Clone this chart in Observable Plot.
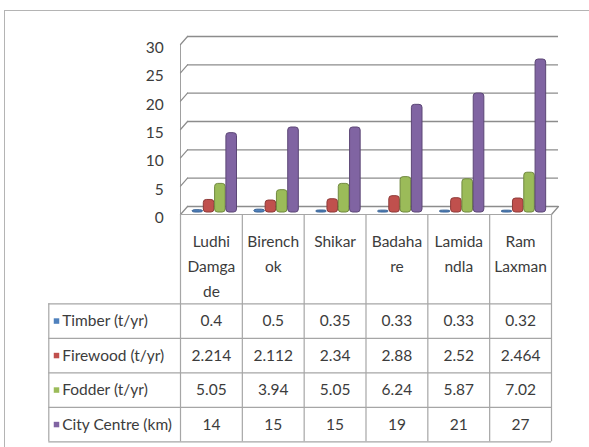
<!DOCTYPE html>
<html><head><meta charset="utf-8">
<script src="https://cdn.jsdelivr.net/npm/d3@7"></script>
<script src="https://cdn.jsdelivr.net/npm/@observablehq/plot@0.6"></script>
<style>
html,body{margin:0;padding:0;background:#fff;}
#wrap{position:relative;width:589px;height:447px;overflow:hidden;background:#fff;}
#frame{position:absolute;left:4px;top:10px;right:-4px;bottom:-4px;border-top:1.5px solid #b4b4b4;border-left:1.5px solid #b4b4b4;}
#chart{position:absolute;left:0;top:0;}
</style></head><body>
<div id="wrap"><div id="frame"></div><div id="chart"></div></div>
<script>
// ---- data ----
const categories = ["Ludhi Damgade", "Birenchok", "Shikar", "Badahare", "Lamidandla", "Ram Laxman"];
const categoryLabels = ["Ludhi\nDamga\nde", "Birench\nok", "Shikar", "Badaha\nre", "Lamida\nndla", "Ram\nLaxman"];
const seriesNames = ["Timber (t/yr)", "Firewood (t/yr)", "Fodder (t/yr)", "City Centre (km)"];
const timber = [0.4, 0.5, 0.35, 0.33, 0.33, 0.32];
const firewood = [2.214, 2.112, 2.34, 2.88, 2.52, 2.464];
const fodder = [5.05, 3.94, 5.05, 6.24, 5.87, 7.02];
const cityCentre = [14, 15, 15, 19, 21, 27];
const yTicks = [0, 5, 10, 15, 20, 25, 30];

// ---- style / layout ----
const seriesValues = [timber, firewood, fodder, cityCentre];
const fills = ["#4f81bd", "#c0504d", "#9bbb59", "#8064a2"];
const strokes = ["#365f91", "#8e3a38", "#71893f", "#5c4776"];
const W = 589, H = 447, L = 180, R = 551, TOP = 42, Y0 = 212;
const bw = (R - L) / categories.length;
const depthX = 7, depthY = -6;      // back wall offset
const frontDy = 2;                   // front edge offset
const rowTop = 303.3 - Y0, rowH = 34.5, tableLeft = 48.3;
const gridColor = "#8c8c8c", tableColor = "#a6a6a6", textColor = "#3c3c3c";
const fs = 15.5;
const seg = {draw(ctx, l) { ctx.moveTo(0, 0); ctx.lineTo(0, -l); }};
const diagLen = Math.hypot(depthX, depthY - frontDy);
const diagRot = Math.atan2(depthX, -(depthY - frontDy)) * 180 / Math.PI;

const marks = [];
// back wall gridlines (incl. floor back edge)
marks.push(Plot.ruleY(yTicks, {y: d => d, dx: depthX, dy: depthY, stroke: gridColor, strokeWidth: 1.3}));
// left wall front edge
marks.push(Plot.ruleX([categories[0]], {x: d => d, dx: -bw / 2, dy: frontDy, stroke: "#a0a0a0"}));
// left wall diagonals
marks.push(Plot.vector(yTicks, {x: () => categories[0], y: d => d, dx: -bw / 2, dy: frontDy, anchor: "start",
  length: diagLen, rotate: diagRot, shape: seg, stroke: gridColor, strokeWidth: 1.2}));
// floor right diagonal
marks.push(Plot.vector([0], {x: () => categories[categories.length - 1], y: d => d, dx: bw / 2, dy: frontDy, anchor: "start",
  length: diagLen, rotate: diagRot, shape: seg, stroke: gridColor, strokeWidth: 1.2}));
// bars
seriesValues.forEach((vals, i) => {
  const left = 12 + i * 11.3, width = 10.6;
  marks.push(Plot.barY(categories, {x: d => d, y: (d, j) => vals[j], fill: fills[i], stroke: strokes[i], strokeWidth: 1,
    insetLeft: left, insetRight: bw - left - width, rx: 3}));
});
// y tick labels
marks.push(Plot.text(yTicks, {x: () => categories[0], y: d => d, text: d => String(d), dx: -bw / 2 - 16.7, dy: 5.5,
  textAnchor: "end", lineAnchor: "middle", fontSize: 15.5}));
// floor front edge / table header top
marks.push(Plot.ruleY([0], {dy: frontDy, stroke: tableColor, strokeWidth: 1.2}));
// table horizontal lines
for (let k = 0; k <= seriesNames.length; k++) {
  marks.push(Plot.ruleY([0], {dy: rowTop + k * rowH, insetLeft: tableLeft - L, stroke: tableColor, strokeWidth: 1.2}));
}
// table vertical lines
marks.push(Plot.ruleX(categories, {x: d => d, dx: -bw / 2, insetTop: Y0 + frontDy - TOP, insetBottom: -(rowTop + 4 * rowH), stroke: tableColor, strokeWidth: 1.2}));
marks.push(Plot.ruleX([categories[categories.length - 1]], {x: d => d, dx: bw / 2, insetTop: Y0 + frontDy - TOP, insetBottom: -(rowTop + 4 * rowH), stroke: tableColor, strokeWidth: 1.2}));
marks.push(Plot.ruleX([categories[0]], {x: d => d, dx: -bw / 2 + (tableLeft - L), insetTop: Y0 + rowTop - TOP, insetBottom: -(rowTop + 4 * rowH), stroke: tableColor, strokeWidth: 1.2}));
// header labels
marks.push(Plot.text(categories, {x: d => d, text: (d, j) => categoryLabels[j], frameAnchor: "bottom", lineAnchor: "top",
  dy: 17, lineHeight: 1.6, fontSize: fs}));
// rows
seriesNames.forEach((name, i) => {
  const cy = rowTop + i * rowH + rowH / 2;
  marks.push(Plot.dot([name], {frameAnchor: "bottom-left", dx: 56 - L, dy: cy, symbol: "square", r: 3.1, fill: fills[i]}));
  marks.push(Plot.text([name], {frameAnchor: "bottom-left", dx: 61.7 - L, dy: cy, text: d => d, textAnchor: "start", lineAnchor: "middle", fontSize: fs}));
  marks.push(Plot.text(categories, {x: d => d, text: (d, j) => String(seriesValues[i][j]), frameAnchor: "bottom", lineAnchor: "middle", dy: cy, fontSize: fs}));
});

const chart = Plot.plot({
  width: W, height: H,
  marginLeft: L, marginRight: W - R, marginTop: TOP, marginBottom: H - Y0,
  x: {type: "band", domain: categories, padding: 0, round: false, axis: null},
  y: {domain: [0, 30], axis: null},
  style: {fontFamily: "Lato, 'Open Sans', sans-serif", fontSize: "15px", color: textColor, background: "transparent", overflow: "visible"},
  marks
});
document.getElementById("chart").appendChild(chart);
</script>
</body></html>
